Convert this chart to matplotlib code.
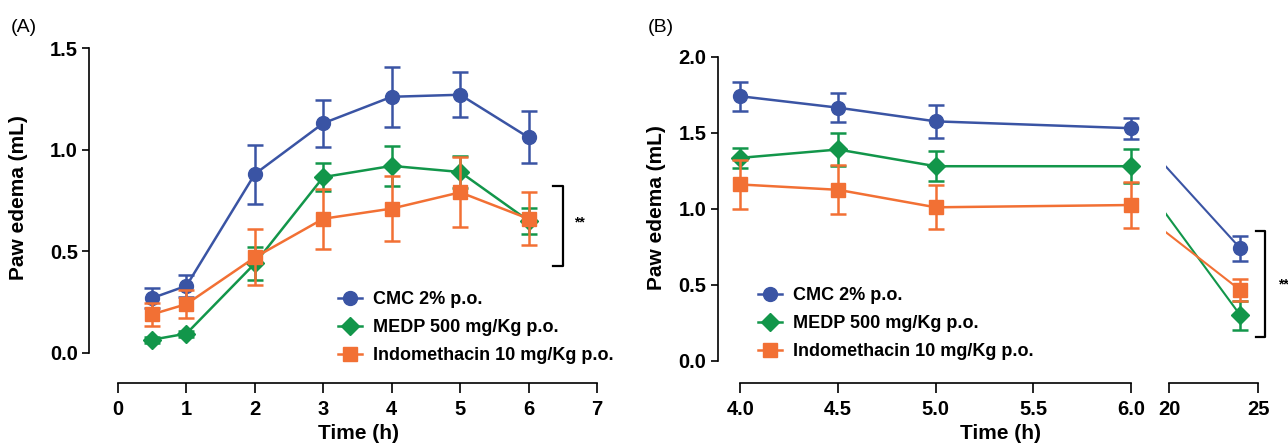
import matplotlib
matplotlib.use("Agg")
from matplotlib import pyplot as plt
from matplotlib.lines import Line2D

# data (mean +/- SEM)
time_a = [0.5, 1, 2, 3, 4, 5, 6]
cmc_a = [0.27, 0.33, 0.88, 1.13, 1.26, 1.27, 1.06]
cmc_a_sem = [0.05, 0.055, 0.145, 0.115, 0.147, 0.11, 0.128]
medp_a = [0.065, 0.095, 0.44, 0.865, 0.92, 0.89, 0.65]
medp_a_sem = [0.015, 0.015, 0.08, 0.067, 0.098, 0.08, 0.065]
indo_a = [0.19, 0.24, 0.47, 0.66, 0.71, 0.79, 0.66]
indo_a_sem = [0.058, 0.07, 0.138, 0.148, 0.158, 0.172, 0.13]

time_b = [4.0, 4.5, 5.0, 6.0, 24]
cmc_b = [1.74, 1.665, 1.575, 1.53, 0.74]
cmc_b_sem = [0.095, 0.097, 0.11, 0.07, 0.08]
medp_b = [1.335, 1.39, 1.28, 1.28, 0.30]
medp_b_sem = [0.065, 0.107, 0.1, 0.11, 0.094]
indo_b = [1.16, 1.125, 1.01, 1.025, 0.465]
indo_b_sem = [0.16, 0.16, 0.145, 0.15, 0.072]

labels = ["CMC 2% p.o.", "MEDP 500 mg/Kg p.o.", "Indomethacin 10 mg/Kg p.o."]
colors = ["#3A54A4", "#12964A", "#F27034"]
markers = ["o", "D", "s"]
msizes = [10, 9, 10]

plt.rcParams["font.family"] = ["Liberation Sans", "DejaVu Sans"]
plt.rcParams["font.weight"] = "bold"

W, H = 1288, 444
fig = plt.figure(figsize=(W / 100, H / 100), dpi=100)

def box(x0, y0, x1, y1):
    # pixel box -> figure fraction
    return [x0 / W, 1 - y1 / H, (x1 - x0) / W, (y1 - y0) / H]

def style(ax, left=True):
    for s in ["top", "right"]:
        ax.spines[s].set_visible(False)
    ax.spines["bottom"].set_linewidth(1.2)
    ax.spines["left"].set_linewidth(1.2)
    ax.tick_params(direction="out", width=1.2, labelsize=14.5)
    ax.tick_params(axis="x", length=7, pad=5)
    ax.tick_params(axis="y", length=5, pad=3)
    if not left:
        ax.spines["left"].set_visible(False)
        ax.tick_params(axis="y", left=False, labelleft=False)

def draw(ax, x, ys, sems, i):
    ax.errorbar(x, ys, yerr=sems, color=colors[i], marker=markers[i], ms=msizes[i],
                lw=1.8, elinewidth=1.8, capsize=6, capthick=1.8,
                clip_on=False, zorder=3 + i)

handles = [Line2D([], [], color=colors[i], marker=markers[i], ms=msizes[i], lw=1.8) for i in range(3)]

def legend(ax, x, y):
    ax.legend(handles, labels, loc="upper left", bbox_to_anchor=(x / W, 1 - y / H),
              bbox_transform=fig.transFigure, frameon=False, fontsize=13,
              handlelength=1.35, handletextpad=0.6, labelspacing=0.62,
              borderpad=0, borderaxespad=0)

# ---- panel A ----
axA = fig.add_axes(box(89, 48, 597, 383))
for i, (m, s) in enumerate([(cmc_a, cmc_a_sem), (medp_a, medp_a_sem), (indo_a, indo_a_sem)]):
    draw(axA, time_a, m, s, i)
axA.set_xlim(-0.424, 7)
axA.set_ylim(-0.148, 1.5)
axA.spines["bottom"].set_bounds(0, 7)
axA.spines["left"].set_bounds(0, 1.5)
axA.set_xticks(range(0, 8))
axA.set_yticks([0, 0.5, 1.0, 1.5])
axA.set_yticklabels(["0.0", "0.5", "1.0", "1.5"])
style(axA)
axA.plot([6.36, 6.5, 6.5, 6.36], [0.82, 0.82, 0.43, 0.43], color="black", lw=1.6, clip_on=False)
axA.text(6.74, 0.64, "**", fontsize=10, fontweight="bold", ha="center", va="center")
legend(axA, 338, 291)
fig.text(19 / W, 1 - 198 / H, "Paw edema (mL)", fontsize=15, rotation=90, ha="center", va="center")
fig.text(358 / W, 1 - 433 / H, "Time (h)", fontsize=15, ha="center", va="center")
fig.text(11 / W, 1 - 28 / H, "(A)", fontsize=14, fontweight="normal", ha="left", va="center")

# ---- panel B (broken x axis) ----
axB1 = fig.add_axes(box(717.7, 56.7, 1146.6, 383))
axB2 = fig.add_axes(box(1165.6, 56.7, 1260, 383), sharey=axB1)
axB1.set_xlim(3.884, 6.08)
axB2.set_xlim(19.78, 25.11)
axB1.set_ylim(-0.145, 2.0)
groups_b = [(cmc_b, cmc_b_sem), (medp_b, medp_b_sem), (indo_b, indo_b_sem)]
for i, (m, s) in enumerate(groups_b):
    draw(axB1, time_b[:4], m[:4], s[:4], i)
    draw(axB2, time_b[4:], m[4:], s[4:], i)
# connecting segment across the break, drawn in display space from the 6 h point
fig.canvas.draw()
for i, (m, s) in enumerate(groups_b):
    disp = axB1.transData.transform((time_b[3], m[3]))
    xv, yv = axB2.transData.inverted().transform(disp)
    axB2.plot([xv, time_b[4]], [yv, m[4]], color=colors[i], lw=1.5, zorder=2)
axB1.spines["bottom"].set_bounds(4, 6)
axB1.spines["left"].set_bounds(0, 2.0)
axB2.spines["bottom"].set_bounds(20, 25)
axB1.set_xticks([4.0, 4.5, 5.0, 5.5, 6.0])
axB1.set_xticklabels(["4.0", "4.5", "5.0", "5.5", "6.0"])
axB2.set_xticks([20, 25])
axB1.set_yticks([0, 0.5, 1.0, 1.5, 2.0])
axB1.set_yticklabels(["0.0", "0.5", "1.0", "1.5", "2.0"])
style(axB1)
style(axB2, left=False)
axB2.plot([24.87, 25.4, 25.4, 24.87], [0.854, 0.854, 0.16, 0.16], color="black", lw=1.6, clip_on=False)
axB2.text(26.1, 0.5, "**", fontsize=10, fontweight="bold", ha="left", va="center", clip_on=False)
legend(axB1, 758, 287)
fig.text(657 / W, 1 - 208 / H, "Paw edema (mL)", fontsize=15, rotation=90, ha="center", va="center")
fig.text(1000 / W, 1 - 433 / H, "Time (h)", fontsize=15, ha="center", va="center")
fig.text(648 / W, 1 - 28 / H, "(B)", fontsize=14, fontweight="normal", ha="left", va="center")

fig.savefig("out.png", dpi=100)
